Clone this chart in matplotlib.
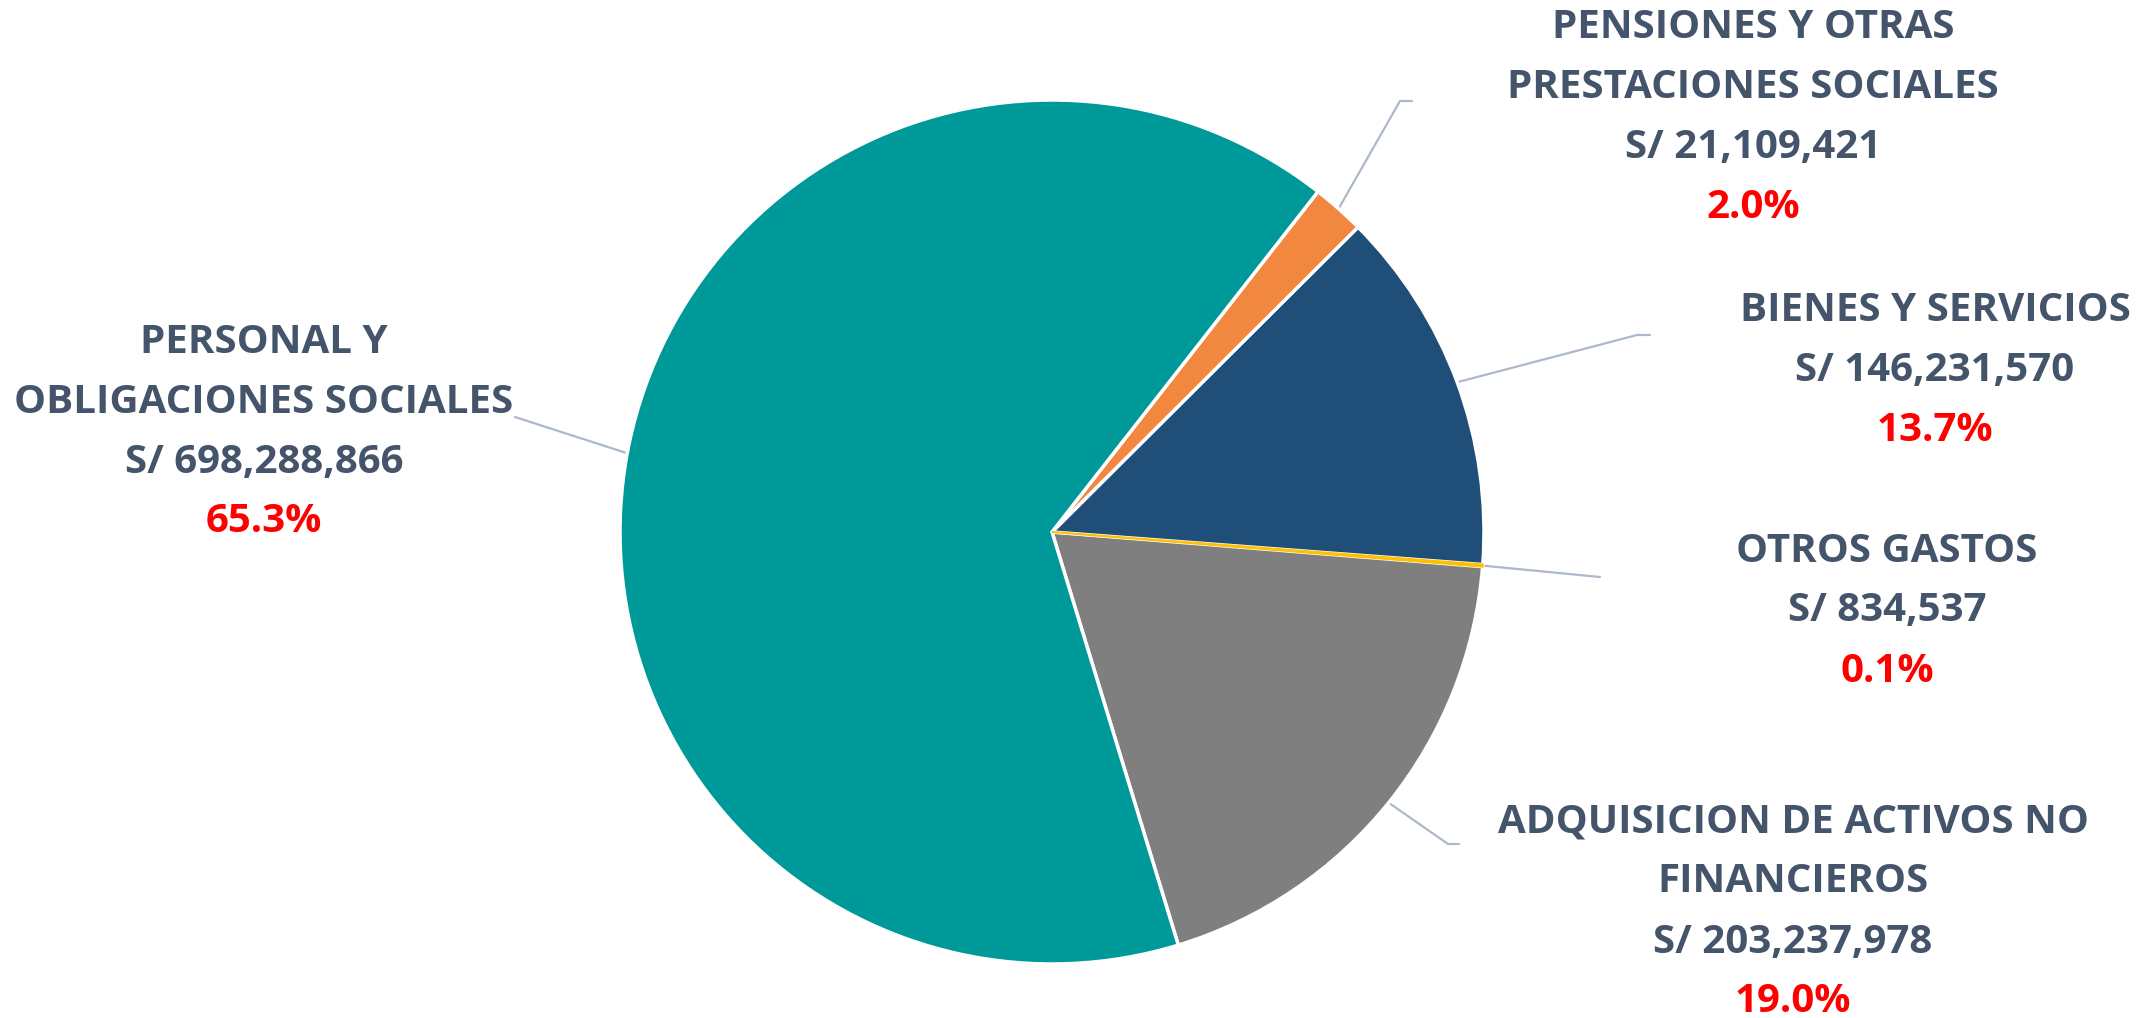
import numpy as np
import matplotlib.pyplot as plt

# data
categories = ["ADQUISICION DE ACTIVOS NO\nFINANCIEROS", "OTROS GASTOS", "BIENES Y SERVICIOS",
              "PENSIONES Y OTRAS\nPRESTACIONES SOCIALES", "PERSONAL Y\nOBLIGACIONES SOCIALES"]
amounts = [203237978, 834537, 146231570, 21109421, 698288866]
colors = ["#7F7F7F", "#FFC000", "#1F4E79", "#F2883F", "#009999"]

# layout (pixel coords, y up)
W, H = 2152, 1018
center = (1052, H - 532)
radius = 432
# label block centre, elbow point of leader, end of leader
label_pos = [(1793, H - 912), (1887, H - 611), (1935, H - 370), (1753, H - 117), (264, H - 432)]
elbow = [(1448, H - 844), (1600, H - 577), (1637, H - 335), (1400, H - 101), (515, H - 417)]
tail = [(1459, H - 844), (1600, H - 577), (1650, H - 335), (1412, H - 101), (515, H - 417)]

TXT = "#44546A"
LINE = "#ADB9CA"

fig = plt.figure(figsize=(W / 100, H / 100), dpi=100)
ax = fig.add_axes([0, 0, 1, 1])

total = sum(amounts)
wedges, _ = ax.pie(amounts, colors=colors, startangle=-73, counterclock=True,
                   center=center, radius=radius,
                   wedgeprops=dict(edgecolor="white", linewidth=2.5))
# the thin "otros gastos" slice would vanish under the white borders
wedges[1].set_edgecolor(colors[1])
wedges[1].set_linewidth(1.5)
wedges[1].set_zorder(3)

ax.set_xlim(0, W)
ax.set_ylim(0, H)
ax.set_aspect("equal")
ax.axis("off")

font = dict(family="Open Sans", fontweight="bold", fontsize=29, ha="center", va="center")
step = 60
for w, cat, amt, lp, el, tl in zip(wedges, categories, amounts, label_pos, elbow, tail):
    mid = np.deg2rad((w.theta1 + w.theta2) / 2)
    start = (center[0] + radius * np.cos(mid), center[1] + radius * np.sin(mid))
    ax.plot([start[0], el[0], tl[0]], [start[1], el[1], tl[1]], color=LINE, lw=1.6,
            solid_capstyle="round", zorder=0)
    lines = cat.split("\n") + ["S/ {:,}".format(amt)]
    pct = "{:.1f}%".format(amt / total * 100)
    n = len(lines) + 1
    y0 = lp[1] + (n - 1) * step / 2
    for i, s in enumerate(lines):
        ax.text(lp[0], y0 - i * step, s, color=TXT, **font)
    ax.text(lp[0], y0 - len(lines) * step, pct, color="#FF0000", **font)

plt.savefig("out.png", dpi=100)
